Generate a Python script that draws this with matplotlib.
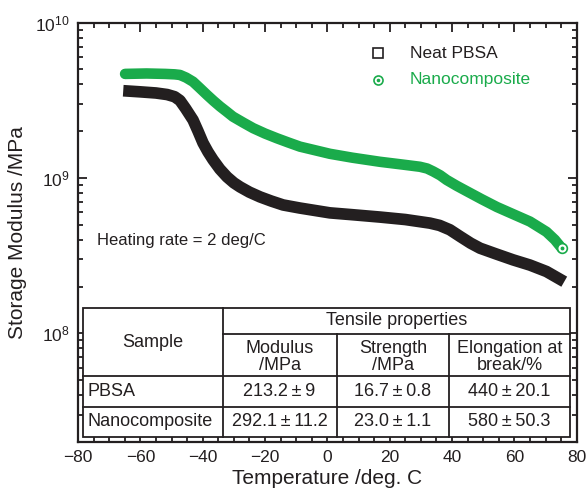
import matplotlib
matplotlib.use("Agg")
import matplotlib.pyplot as plt
import numpy as np
from matplotlib.ticker import MultipleLocator, LogLocator, NullFormatter

plt.rcParams['font.family'] = ['Liberation Sans', 'DejaVu Sans']
plt.rcParams['mathtext.fontset'] = 'custom'
plt.rcParams['mathtext.rm'] = 'Liberation Sans'
plt.rcParams['mathtext.it'] = 'Liberation Sans:italic'
plt.rcParams['mathtext.bf'] = 'Liberation Sans:bold'

# storage modulus (temperature in deg C, modulus in MPa)
temp_neat = [-65.5, -60, -55, -51.4, -49, -47.3, -45.5, -43.1, -41.5, -39.9, -38.3,
             -36.7, -34.5, -32.2, -30, -28, -25, -21.6, -18, -14.2, -8.8, 0.8, 8,
             16.9, 25, 32.9, 36, 39.3, 42.6, 46, 49, 54, 59.6, 65, 70.3, 76]
mod_neat = [3.64e9, 3.58e9, 3.52e9, 3.44e9, 3.33e9, 3.15e9, 2.8e9, 2.36e9, 2.0e9,
            1.68e9, 1.47e9, 1.31e9, 1.14e9, 1.015e9, 9.3e8, 8.75e8, 8.1e8, 7.55e8,
            7.1e8, 6.7e8, 6.4e8, 5.96e8, 5.8e8, 5.6e8, 5.4e8, 5.12e8, 4.95e8, 4.64e8,
            4.2e8, 3.8e8, 3.53e8, 3.25e8, 2.97e8, 2.75e8, 2.5e8, 2.15e8]

temp_nano = [-64.9, -58, -52, -49, -47.3, -45.3, -43.1, -41, -38.6, -36.5, -34.4,
             -32.3, -30.3, -27, -23.8, -20, -16.2, -12.5, -8.8, 0.8, 8, 16.9, 24,
             29.7, 32, 34, 36.2, 38.3, 41.5, 44.8, 49.5, 54.4, 60, 65, 70.3, 73, 75.2]
mod_nano = [4.67e9, 4.7e9, 4.67e9, 4.64e9, 4.6e9, 4.42e9, 4.16e9, 3.8e9, 3.42e9,
            3.13e9, 2.88e9, 2.67e9, 2.48e9, 2.27e9, 2.09e9, 1.93e9, 1.8e9, 1.69e9,
            1.59e9, 1.43e9, 1.35e9, 1.27e9, 1.22e9, 1.18e9, 1.15e9, 1.1e9, 1.04e9,
            9.7e8, 8.9e8, 8.2e8, 7.3e8, 6.5e8, 5.8e8, 5.24e8, 4.5e8, 4.0e8, 3.53e8]

series_names = ["Neat PBSA", "Nanocomposite"]
heating_note = "Heating rate = 2 deg/C"

# inset table
table_head = ["Sample", "Tensile properties"]
table_sub = ["Modulus\n/MPa", "Strength\n/MPa", "Elongation at\nbreak/%"]
table_samples = ["PBSA", "Nanocomposite"]
table_rows = [["213.2\u2009\u00b1\u20099", "16.7\u2009\u00b1\u20090.8", "440\u2009\u00b1\u200920.1"],
              ["292.1\u2009\u00b1\u200911.2", "23.0\u2009\u00b1\u20091.1", "580\u2009\u00b1\u200950.3"]]

green = '#1aab4b'
ink = '#231f20'

fig = plt.figure(figsize=(5.88, 4.96), dpi=100)
ax = fig.add_axes([0.1327, 0.1089, 0.8481, 0.8457])

ax.plot(temp_neat, mod_neat, color=ink, lw=8.4, solid_capstyle='butt',
        solid_joinstyle='round', zorder=3)
ax.plot(temp_nano, mod_nano, color=green, lw=7.6, solid_capstyle='round',
        solid_joinstyle='round', zorder=4)
# last measured point of the nanocomposite shown as its marker
ax.plot(temp_nano[-1], mod_nano[-1], 'o', ms=7, mfc='white', mec=green, mew=1.2, zorder=5)
ax.plot(temp_nano[-1], mod_nano[-1], 'o', ms=1.8, color=green, zorder=6)

ax.set_yscale('log')
ax.set_xlim(-80, 80)
ax.set_ylim(2e7, 1e10)
ax.xaxis.set_major_locator(MultipleLocator(20))
ax.xaxis.set_minor_locator(MultipleLocator(5))
ax.yaxis.set_major_locator(LogLocator(base=10, numticks=10))
ax.yaxis.set_minor_locator(LogLocator(base=10, subs=np.arange(2, 10), numticks=10))
ax.yaxis.set_minor_formatter(NullFormatter())
ax.tick_params(which='both', direction='in', top=True, right=True, width=1.3,
               labelsize=12.5, colors=ink)
ax.tick_params(which='major', length=6.5, pad=6)
ax.tick_params(which='minor', length=3.5)
for sp in ax.spines.values():
    sp.set_linewidth(1.6)
    sp.set_color(ink)

ax.set_xlabel("Temperature /deg. C", fontsize=15, color=ink, labelpad=3)
ax.set_ylabel("Storage Modulus /MPa", fontsize=15, color=ink, labelpad=6)

# legend drawn by hand
ax.plot(0.6016, 0.927, 's', ms=7, mfc='white', mec=ink, mew=1.2,
        transform=ax.transAxes, clip_on=False)
ax.text(0.6657, 0.927, series_names[0], transform=ax.transAxes, fontsize=12.5,
        va='center', color=ink)
ax.plot(0.6016, 0.863, 'o', ms=6.5, mfc='white', mec=green, mew=1.2,
        transform=ax.transAxes, clip_on=False)
ax.plot(0.6016, 0.863, 'o', ms=1.6, color=green, transform=ax.transAxes, clip_on=False)
ax.text(0.6657, 0.863, series_names[1], transform=ax.transAxes, fontsize=12.5,
        va='center', color=green)

ax.text(0.038, 0.4815, heating_note, transform=ax.transAxes, fontsize=12,
        va='center', color=ink)

# table geometry in axes fractions
cx = [0.0094, 0.2898, 0.5187, 0.7439, 0.9866]
ry = [0.3194, 0.2575, 0.1573, 0.0841, 0.0126]
tw = 1.3
tfs = 13
ax.add_patch(plt.Rectangle((cx[0], ry[4]), cx[4] - cx[0], ry[0] - ry[4],
                           transform=ax.transAxes, facecolor='white',
                           edgecolor=ink, lw=tw, zorder=7))
lk = dict(transform=ax.transAxes, color=ink, lw=tw, zorder=8)
ax.plot([cx[1], cx[1]], [ry[0], ry[4]], **lk)
for c in cx[2:4]:
    ax.plot([c, c], [ry[1], ry[4]], **lk)
ax.plot([cx[1], cx[4]], [ry[1], ry[1]], **lk)
ax.plot([cx[0], cx[4]], [ry[2], ry[2]], **lk)
ax.plot([cx[0], cx[4]], [ry[3], ry[3]], **lk)

tk = dict(transform=ax.transAxes, fontsize=tfs, color=ink, zorder=9)
ax.text((cx[0] + cx[1]) / 2, (ry[0] + ry[2]) / 2, table_head[0], ha='center', va='center', **tk)
ax.text((cx[1] + cx[4]) / 2, (ry[0] + ry[1]) / 2, table_head[1], ha='center', va='center', **tk)
for i, s in enumerate(table_sub):
    ax.text((cx[i + 1] + cx[i + 2]) / 2, (ry[1] + ry[2]) / 2 - 0.005, s, ha='center',
            va='center', linespacing=1.0, **tk)
for r, (name, vals) in enumerate(zip(table_samples, table_rows)):
    ymid = (ry[2 + r] + ry[3 + r]) / 2
    ax.text(cx[0] + 0.01, ymid, name, ha='left', va='center', **tk)
    for i, v in enumerate(vals):
        ax.text((cx[i + 1] + cx[i + 2]) / 2, ymid, v, ha='center', va='center', **tk)

fig.savefig("out.png", dpi=100)
